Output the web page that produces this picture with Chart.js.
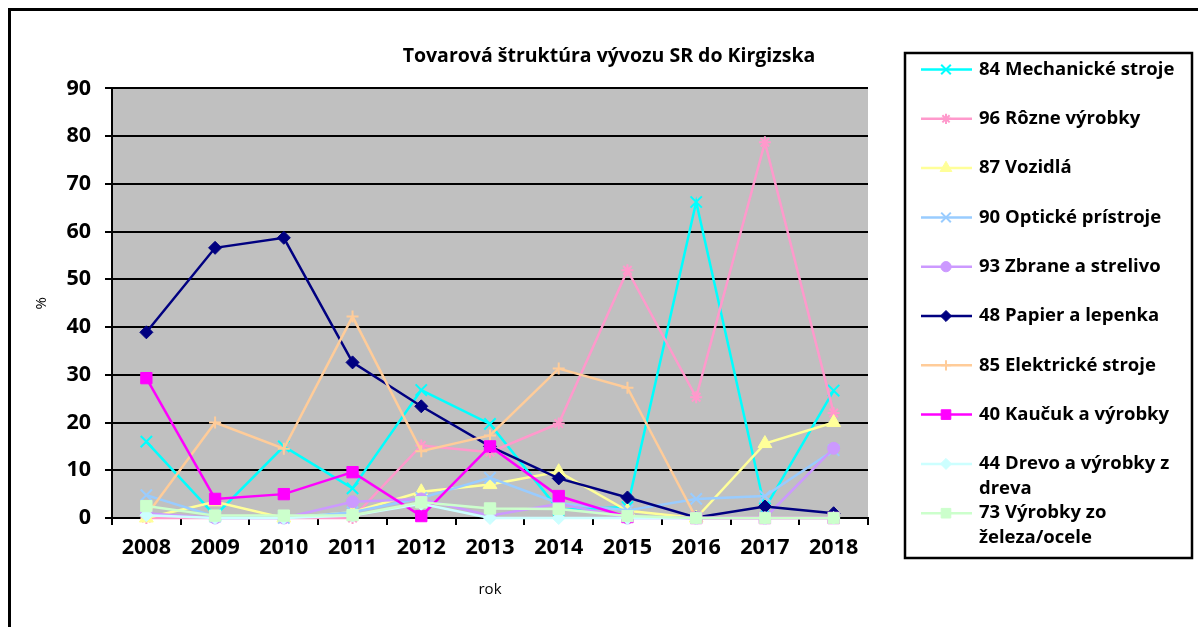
<!DOCTYPE html>
<html>
<head>
<meta charset="utf-8">
<script src="https://cdn.jsdelivr.net/npm/chart.js@4.4.1/dist/chart.umd.min.js"></script>
<style>
  html, body { margin: 0; padding: 0; background: #fff; }
  #wrap { width: 1198px; height: 627px; }
</style>
</head>
<body>
<div id="wrap"><canvas id="chart" width="1198" height="627"></canvas></div>
<script>
const FONT = '"Open Sans", Lato, sans-serif';

const years = ['2008', '2009', '2010', '2011', '2012', '2013', '2014', '2015', '2016', '2017', '2018'];
const yTicks = [0, 10, 20, 30, 40, 50, 60, 70, 80, 90];

const seriesNames = [
    '84 Mechanické stroje',
    '96 Rôzne výrobky',
    '87 Vozidlá',
    '90 Optické prístroje',
    '93 Zbrane a strelivo',
    '48 Papier a lepenka',
    '85 Elektrické stroje',
    '40 Kaučuk a výrobky',
    '44 Drevo a výrobky z dreva',
    '73 Výrobky zo železa/ocele'
];

const mechanickeStroje = [16.0, 0.5, 15.0, 6.2, 26.8, 19.7, 1.7, 2.3, 66.2, 2.0, 26.7];
const rozneVyrobky = [0, 0, 0, 0, 15.2, 13.8, 19.8, 51.9, 25.3, 78.7, 22.0];
const vozidla = [0, 3.4, 0, 1.2, 5.5, 7.0, 9.7, 1.5, 0, 15.6, 20.0];
const optickePristroje = [4.8, 0.3, 0, 1.2, 4.2, 8.4, 3.1, 1.6, 4.0, 4.6, 14.2];
const zbraneStrelivo = [1.0, 0, 0, 3.4, 4.0, 0.5, 3.0, 0, 0, 0, 14.6];
const papierLepenka = [38.9, 56.6, 58.7, 32.6, 23.4, 15.0, 8.3, 4.3, 0.1, 2.4, 1.0];
const elektrickeStroje = [0.5, 20.0, 14.5, 42.2, 14.0, 17.3, 31.3, 27.3, 0, 0, 0];
const kaucukVyrobky = [29.3, 4.0, 5.0, 9.6, 0.4, 15.0, 4.6, 0.2, 0, 0, 0];
const drevoVyrobky = [0.6, 0, 0, 0.5, 3.0, 0, 0, 0, 0, 0, 0];
const zelezoOcel = [2.5, 0.5, 0.5, 0.6, 3.3, 2.0, 1.9, 0.4, 0, 0, 0];

const seriesValues = [
    mechanickeStroje, rozneVyrobky, vozidla, optickePristroje, zbraneStrelivo,
    papierLepenka, elektrickeStroje, kaucukVyrobky, drevoVyrobky, zelezoOcel
];

// marker look per series (Excel default palette)
const seriesStyles = [
    { color: '#00FFFF', point: 'crossRot', radius: 8 },
    { color: '#FF99CC', point: 'star', radius: 6 },
    { color: '#FFFF99', point: 'triangle', radius: 8 },
    { color: '#99CCFF', point: 'crossRot', radius: 8 },
    { color: '#CC99FF', point: 'circle', radius: 6 },
    { color: '#000080', point: 'rectRot', radius: 6.5 },
    { color: '#FFCC99', point: 'cross', radius: 6 },
    { color: '#FF00FF', point: 'rect', radius: 8 },
    { color: '#CCFFFF', point: 'rectRot', radius: 6.5 },
    { color: '#CCFFCC', point: 'rect', radius: 8 }
];

const isLineMarker = s => s === 'cross' || s === 'crossRot' || s === 'star';

const datasets = seriesNames.map((name, i) => {
    const st = seriesStyles[i];
    return {
        label: name,
        data: seriesValues[i],
        borderColor: st.color,
        backgroundColor: st.color,
        borderWidth: 2.5,
        pointStyle: st.point,
        pointRadius: st.radius,
        pointBorderWidth: isLineMarker(st.point) ? 2 : 1,
        pointBackgroundColor: st.color,
        pointBorderColor: st.color,
        tension: 0,
        clip: false,
        order: seriesNames.length - 1 - i   // later series on top, like Excel
    };
});

// grey plot area and the outer frame
const backdrop = {
    id: 'backdrop',
    beforeDraw(chart) {
        const { ctx, chartArea: a } = chart;
        ctx.save();
        ctx.fillStyle = '#fff';
        ctx.fillRect(0, 0, chart.width, chart.height);
        ctx.strokeStyle = '#000';
        ctx.lineWidth = 3;
        ctx.strokeRect(9.5, 9.5, chart.width + 20, chart.height + 20);
        ctx.fillStyle = '#C0C0C0';
        ctx.fillRect(a.left, a.top, a.right - a.left, a.bottom - a.top);
        ctx.restore();
    }
};

// legend in its own layout box on the right, with wrapped labels
const sideLegend = {
    id: 'sideLegend',
    beforeInit(chart) {
        const box = {
            position: 'right',
            weight: 10,
            fullSize: true,
            options: { stackWeight: 1 },
            isHorizontal() { return false; },
            update(maxWidth, maxHeight) { this.width = 330; this.height = maxHeight; },
            draw() {
                const ctx = chart.ctx;
                ctx.save();
                ctx.strokeStyle = '#000';
                ctx.lineWidth = 2.5;
                ctx.strokeRect(905, 53, 287, 505);
                ctx.font = 'bold 18.5px ' + FONT;
                ctx.textBaseline = 'middle';
                ctx.textAlign = 'left';
                const wrapWidth = 206;
                chart.data.datasets.forEach((ds, i) => {
                    const y = 69.5 + i * 49.3;
                    const st = seriesStyles[i];
                    ctx.strokeStyle = st.color;
                    ctx.fillStyle = st.color;
                    ctx.lineWidth = 2.5;
                    ctx.beginPath();
                    ctx.moveTo(921, y);
                    ctx.lineTo(972, y);
                    ctx.stroke();
                    ctx.lineWidth = isLineMarker(st.point) ? 2 : 1;
                    Chart.helpers.drawPoint(ctx, {
                        pointStyle: st.point,
                        radius: st.radius * 0.85,
                        borderWidth: ctx.lineWidth,
                        rotation: 0
                    }, 946, y);
                    // word wrap
                    const words = ds.label.split(' ');
                    const lines = [];
                    let cur = '';
                    words.forEach(w => {
                        const test = cur ? cur + ' ' + w : w;
                        if (cur && ctx.measureText(test).width > wrapWidth) {
                            lines.push(cur);
                            cur = w;
                        } else {
                            cur = test;
                        }
                    });
                    lines.push(cur);
                    ctx.fillStyle = '#000';
                    lines.forEach((ln, k) => ctx.fillText(ln, 979, y + k * 25));
                });
                ctx.restore();
            }
        };
        Chart.layouts.addBox(chart, box);
    }
};

new Chart(document.getElementById('chart'), {
    type: 'line',
    data: {
        labels: years,
        datasets: datasets
    },
    options: {
        responsive: false,
        animation: false,
        layout: {
            padding: { left: 20, right: 0, top: 0, bottom: 9 }
        },
        plugins: {
            legend: { display: false },
            tooltip: { enabled: false },
            title: {
                display: true,
                text: 'Tovarová štruktúra vývozu SR do Kirgizska',
                color: '#000',
                font: { family: FONT, size: 19.5, weight: 'bold' },
                padding: { top: 45, bottom: 20 }
            }
        },
        scales: {
            x: {
                offset: true,
                grid: {
                    offset: true,
                    drawOnChartArea: false,
                    color: '#000',
                    lineWidth: 2,
                    tickLength: 7
                },
                border: { color: '#000', width: 2 },
                ticks: {
                    color: '#000',
                    font: { family: FONT, size: 21.5, weight: 'bold' },
                    padding: 10,
                    maxRotation: 0,
                    autoSkip: false
                },
                title: {
                    display: true,
                    text: 'rok',
                    color: '#000',
                    font: { family: FONT, size: 15 },
                    padding: { top: 0, bottom: 19 }
                },
                afterFit(scale) { scale.height = 100; }
            },
            y: {
                min: 0,
                max: 90,
                grid: {
                    color: '#000',
                    lineWidth: 2,
                    tickLength: 7
                },
                border: { color: '#000', width: 2 },
                ticks: {
                    color: '#000',
                    font: { family: FONT, size: 21.5, weight: 'bold' },
                    padding: 14
                },
                afterBuildTicks(scale) {
                    scale.ticks = yTicks.map(v => ({ value: v }));
                },
                title: {
                    display: true,
                    text: '%',
                    color: '#000',
                    font: { family: FONT, size: 15 },
                    padding: { top: 13, bottom: 0 }
                },
                afterFit(scale) { scale.width = 92; }
            }
        }
    },
    plugins: [backdrop, sideLegend]
});
</script>
</body>
</html>
